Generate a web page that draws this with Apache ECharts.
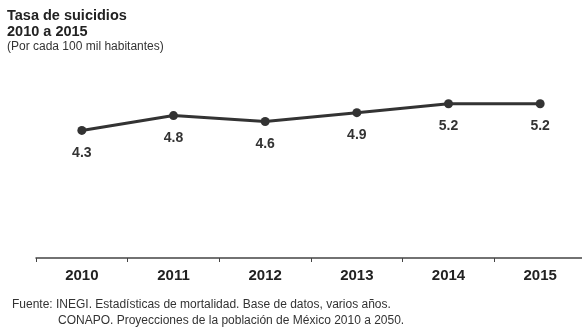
<!DOCTYPE html>
<html>
<head>
<meta charset="utf-8">
<script src="https://cdn.jsdelivr.net/npm/echarts@6/dist/echarts.min.js"></script>
<style>html,body{margin:0;padding:0;background:#fff;overflow:hidden;width:582px;height:329px}#c{width:592px;height:329px}</style>
</head>
<body>
<div id="c"></div>
<script>
const years = ['2010','2011','2012','2013','2014','2015'];
const rates = [4.3, 4.8, 4.6, 4.9, 5.2, 5.2];
const titleLines = ['Tasa de suicidios', '2010 a 2015'];
const subtitle = '(Por cada 100 mil habitantes)';
const sourceLines = ['Fuente: INEGI. Estadísticas de mortalidad. Base de datos, varios años.', 'CONAPO. Proyecciones de la población de México 2010 a 2050.'];

const F = '"Liberation Sans", Arial, sans-serif';
const chart = echarts.init(document.getElementById('c'));
chart.setOption({
  animation: false,
  backgroundColor: '#fff',
  grid: {left: 36, right: 6, top: 80, bottom: 71},
  xAxis: {
    type: 'category', data: years, boundaryGap: true,
    axisLine: {lineStyle: {color: '#444', width: 1.5}},
    axisTick: {show: true, length: 4, lineStyle: {color: '#444'}},
    axisLabel: {color: '#222', fontFamily: F, fontWeight: 'bold', fontSize: 15, margin: 10}
  },
  yAxis: {type: 'value', min: 0, max: 6, show: false, splitLine: {show: false}},
  series: [{
    type: 'line', data: rates,
    lineStyle: {color: '#333', width: 3},
    itemStyle: {color: '#333'},
    symbol: 'circle', symbolSize: 9,
    label: {show: true, position: 'bottom', distance: 11, color: '#333', fontFamily: F, fontWeight: 'bold', fontSize: 14,
      formatter: p => p.value.toFixed(1)}
  }],
  graphic: [
    {type: 'text', left: 7, top: 8, style: {text: titleLines[0], font: 'bold 14.5px ' + F, fill: '#222'}},
    {type: 'text', left: 7, top: 24, style: {text: titleLines[1], font: 'bold 14.5px ' + F, fill: '#222'}},
    {type: 'text', left: 7, top: 41, style: {text: subtitle, font: '12px ' + F, fill: '#333'}},
    {type: 'text', left: 12, top: 299, style: {text: sourceLines[0], font: '12px ' + F, fill: '#333'}},
    {type: 'text', left: 58, top: 315, style: {text: sourceLines[1], font: '12px ' + F, fill: '#333'}}
  ]
});
</script>
</body>
</html>
